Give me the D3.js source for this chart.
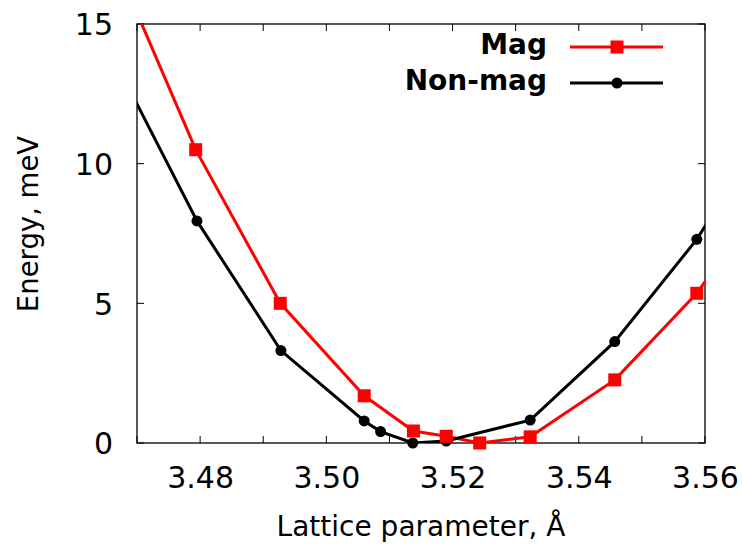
<!DOCTYPE html>
<html><head><meta charset="utf-8">
<script src="https://cdn.jsdelivr.net/npm/d3@7"></script>
<style>body{margin:0;background:#fff}svg{display:block}</style>
</head><body>
<svg id="c" width="742" height="547"></svg>
<script>
// Data (lattice parameter in Å, energy in meV); first/last points lie outside the plotted range (clipped)
const magX = [3.466, 3.4793, 3.4927, 3.5060, 3.5138, 3.5190, 3.5243, 3.5323, 3.5457, 3.5587, 3.572];
const magE = [17.5, 10.5, 5.0, 1.69, 0.43, 0.24, 0.0, 0.22, 2.26, 5.36, 9.6];
const nonX = [3.466, 3.4795, 3.4928, 3.5060, 3.5086, 3.5137, 3.5190, 3.5323, 3.5457, 3.5587, 3.572];
const nonE = [13.9, 7.95, 3.31, 0.79, 0.41, 0.0, 0.07, 0.82, 3.63, 7.29, 12.1];
const xTicks = [3.47, 3.48, 3.49, 3.50, 3.51, 3.52, 3.53, 3.54, 3.55, 3.56];
const xLabels = [3.48, 3.50, 3.52, 3.54, 3.56];
const yTicks = [0, 5, 10, 15];
const seriesNames = ["Mag", "Non-mag"];

const W = 742, H = 547;
const m = {l: 137, t: 24, r: 37, b: 104};
const svg = d3.select("#c");
const x = d3.scaleLinear().domain([3.47, 3.56]).range([m.l, W - m.r]);
const y = d3.scaleLinear().domain([0, 15]).range([H - m.b, m.t]);

svg.append("defs").append("clipPath").attr("id", "clip")
  .append("rect").attr("x", m.l).attr("y", m.t).attr("width", W - m.l - m.r).attr("height", H - m.t - m.b);

const tickFont = "DejaVu Sans, sans-serif";
// ticks (mirrored on all sides)
const tl = 7;
const g = svg.append("g").attr("stroke", "#000").attr("stroke-width", 1);
xTicks.forEach(v => {
  g.append("line").attr("x1", x(v)).attr("x2", x(v)).attr("y1", y(0)).attr("y2", y(0) - tl);
  g.append("line").attr("x1", x(v)).attr("x2", x(v)).attr("y1", y(15)).attr("y2", y(15) + tl);
});
yTicks.forEach(v => {
  g.append("line").attr("x1", x(3.47)).attr("x2", x(3.47) + tl).attr("y1", y(v)).attr("y2", y(v));
  g.append("line").attr("x1", x(3.56)).attr("x2", x(3.56) - tl).attr("y1", y(v)).attr("y2", y(v));
});

// axes labels via d3 axes (no lines, text only)
const xAxis = d3.axisBottom(x).tickValues(xLabels).tickFormat(d3.format(".2f")).tickSize(0).tickPadding(0);
svg.append("g").attr("transform", `translate(0,${y(0)})`).call(xAxis)
  .call(s => s.select(".domain").remove())
  .selectAll("text").attr("font-family", tickFont).attr("font-size", 30).attr("fill", "#000")
  .attr("dy", null).attr("y", 45);
const yAxis = d3.axisLeft(y).tickValues(yTicks).tickSize(0).tickPadding(0);
svg.append("g").attr("transform", `translate(${x(3.47)},0)`).call(yAxis)
  .call(s => s.select(".domain").remove())
  .selectAll("text").attr("font-family", tickFont).attr("font-size", 30).attr("fill", "#000")
  .attr("x", -24).attr("dy", "0.36em");

// frame
svg.append("rect").attr("x", m.l).attr("y", m.t).attr("width", W - m.l - m.r).attr("height", H - m.t - m.b)
  .attr("fill", "none").attr("stroke", "#000").attr("stroke-width", 1.3);

// series
const line = d3.line().x(d => x(d[0])).y(d => y(d[1]));
const mag = magX.map((v, i) => [v, magE[i]]);
const non = nonX.map((v, i) => [v, nonE[i]]);
const inDom = d => d[0] >= 3.47 && d[0] <= 3.56 && d[1] <= 15;
const plot = svg.append("g").attr("clip-path", "url(#clip)");
plot.append("path").datum(mag).attr("d", line).attr("fill", "none").attr("stroke", "#ff0000").attr("stroke-width", 3);
plot.append("path").datum(non).attr("d", line).attr("fill", "none").attr("stroke", "#000").attr("stroke-width", 3);
svg.append("g").selectAll("circle").data(non.filter(inDom)).join("circle")
  .attr("cx", d => x(d[0])).attr("cy", d => y(d[1])).attr("r", 5.5).attr("fill", "#000");
svg.append("g").selectAll("rect").data(mag.filter(inDom)).join("rect")
  .attr("x", d => x(d[0]) - 6.5).attr("y", d => y(d[1]) - 6.5).attr("width", 13).attr("height", 13).attr("fill", "#ff0000");

// legend
const lg = svg.append("g");
const legY = [47, 83];
const legBase = [54, 90];
const colors = ["#ff0000", "#000"];
seriesNames.forEach((n, i) => {
  lg.append("text").attr("x", 547).attr("y", legBase[i]).attr("text-anchor", "end")
    .attr("font-family", "DejaVu Sans, sans-serif").attr("font-weight", "bold").attr("font-size", 28)
    .attr("fill", "#000").text(n);
  lg.append("line").attr("x1", 570).attr("x2", 663).attr("y1", legY[i]).attr("y2", legY[i])
    .attr("stroke", colors[i]).attr("stroke-width", 3);
  if (i === 0) lg.append("rect").attr("x", 617 - 6.5).attr("y", legY[i] - 6.5).attr("width", 13).attr("height", 13).attr("fill", colors[i]);
  else lg.append("circle").attr("cx", 617).attr("cy", legY[i]).attr("r", 5.5).attr("fill", colors[i]);
});

// axis titles
svg.append("text").attr("x", (m.l + W - m.r) / 2).attr("y", 536).attr("text-anchor", "middle")
  .attr("font-family", tickFont).attr("font-size", 28).attr("fill", "#000").text("Lattice parameter, Å");
svg.append("text").attr("transform", "translate(38,224) rotate(-90)").attr("text-anchor", "middle")
  .attr("font-family", tickFont).attr("font-size", 27.5).attr("fill", "#000").text("Energy, meV");
</script>
</body></html>
